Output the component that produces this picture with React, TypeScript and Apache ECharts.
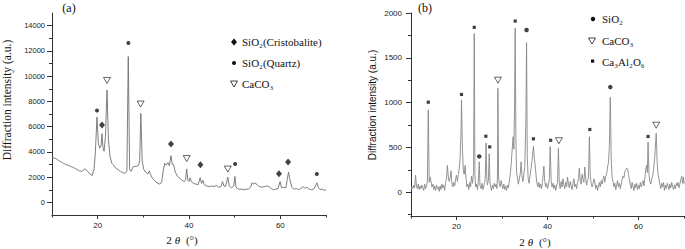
import { useEffect, useRef } from 'react';
import * as echarts from 'echarts';

// ---------- Panel (a) ----------
const patternA: number[][] = [
  [10,3600],[10.5,3500],[11,3450],[11.5,3300],[12,3200],[12.5,3100],[13,3000],[13.5,2950],[14,2850],[14.5,2800],
  [15,2700],[15.5,2600],[16,2500],[16.5,2450],[17,2600],[17.3,2650],[17.8,2450],[18.3,2250],[18.8,2120],[19.2,2600],
  [19.5,4000],[19.85,6750],[20.15,4700],[20.45,4300],[20.75,4500],[20.95,5450],[21.15,4400],[21.4,4050],[21.7,5200],[22.05,8900],
  [22.35,5000],[22.7,3650],[23.1,3100],[23.5,2950],[24,2700],[24.5,2580],[25,2450],[25.5,2350],[26,2300],[26.4,2500],
  [26.7,11550],[27.0,2600],[27.3,2450],[27.7,2800],[28,2850],[28.5,2850],[29,2950],[29.2,3300],[29.45,7050],[29.75,3300],
  [30.1,2600],[30.5,2400],[31,2250],[31.3,2500],[31.6,2200],[32,1900],[32.5,1700],[33,1550],[33.5,1450],[34,1550],
  [34.4,2600],[34.7,3100],[35,2950],[35.4,3150],[35.7,2900],[36.05,3700],[36.35,3000],[36.6,3000],[37,2400],[37.5,2050],
  [38,1900],[38.5,1750],[39,1650],[39.25,1800],[39.5,2650],[39.75,1750],[40,1650],[40.25,1950],[40.5,1650],[41,1500],
  [41.5,1450],[42,1400],[42.45,1950],[42.75,1500],[43.05,1750],[43.35,1400],[43.8,1300],[44.5,1250],[45,1300],[45.5,1250],
  [46,1350],[46.5,1200],[47,1250],[47.35,1650],[47.65,1300],[48,1250],[48.5,2000],[48.8,1300],[49.3,1150],[49.8,1300],
  [50.05,2050],[50.3,1200],[50.8,1050],[51.5,1050],[52,1000],[52.5,1050],[53,1050],[53.5,1200],[53.8,1550],[54.2,1450],
  [54.5,1550],[55,1350],[55.5,1250],[56,1200],[56.5,1250],[57,1300],[57.5,1250],[58,1100],[58.5,1000],[59,1050],
  [59.5,1100],[59.95,1650],[60.25,1150],[60.7,1200],[61.2,1150],[61.5,1800],[61.8,2400],[62.1,1800],[62.5,1200],[63,1050],
  [63.5,1100],[64,1000],[64.5,1100],[65,1250],[65.4,1100],[65.8,1200],[66.3,1050],[66.8,1000],[67.3,1050],[67.7,1300],
  [68,1550],[68.3,1200],[68.7,1000],[69.2,1050],[69.6,950],[70,1000]
];
const cristobaliteA: number[][] = [[20.95,6130],[36.05,4620],[42.5,2980],[59.7,2270],[61.7,3200]];
const quartzA: number[][] = [[19.85,7270],[26.72,12620],[50.1,3040],[68.0,2250]];
const calciteA: number[][] = [[22.05,9660],[29.4,7790],[39.5,3470],[48.5,2640]];
const yLabelsA = [0,2000,4000,6000,8000,10000,12000,14000];
const yMinorA = [1000,3000,5000,7000,9000,11000,13000];
const xLabelsA = [20,40,60];
const xMinorA = [10,30,50,70];

// ---------- Panel (b) ----------
const patternB: number[][] = [
  [10,20],[10.2,60],[10.4,40],[10.6,80],[10.8,50],[11.0,190],[11.2,70],[11.4,40],[11.6,90],[11.8,30],
  [12.0,70],[12.2,40],[12.4,80],[12.6,50],[12.8,20],[13.0,90],[13.2,40],[13.4,70],[13.6,120],[13.8,920],
  [14.0,110],[14.2,170],[14.4,120],[14.6,60],[14.8,90],[15.0,30],[15.2,70],[15.4,20],[15.6,80],[15.8,40],
  [16.0,60],[16.2,10],[16.4,70],[16.6,30],[16.8,90],[17.0,50],[17.2,80],[17.4,20],[17.6,110],[17.8,150],
  [18.0,300],[18.2,170],[18.4,120],[18.6,160],[18.8,240],[19.0,90],[19.2,60],[19.4,110],[19.6,70],[19.8,150],
  [20.0,190],[20.2,120],[20.4,200],[20.6,260],[20.8,380],[21.0,700],[21.1,1030],[21.3,500],[21.5,250],[21.7,200],
  [21.9,300],[22.1,150],[22.3,60],[22.5,90],[22.7,30],[22.9,110],[23.1,60],[23.3,180],[23.5,100],[23.75,220],
  [23.9,1770],[24.05,200],[24.2,60],[24.4,90],[24.6,30],[24.8,120],[25.0,340],[25.15,80],[25.4,40],[25.6,100],
  [25.8,30],[26.0,70],[26.2,110],[26.35,200],[26.5,550],[26.65,150],[26.8,80],[27.0,130],[27.2,430],[27.35,120],
  [27.5,60],[27.7,20],[27.9,80],[28.1,40],[28.3,100],[28.5,60],[28.7,90],[28.9,40],[29.0,180],[29.1,1160],
  [29.25,160],[29.4,100],[29.6,60],[29.8,130],[30.0,80],[30.2,40],[30.4,90],[30.6,30],[30.8,70],[31.0,20],
  [31.2,80],[31.4,50],[31.6,120],[31.8,200],[32.0,300],[32.2,450],[32.45,620],[32.6,480],[32.75,900],[32.9,1830],
  [33.05,600],[33.2,220],[33.4,160],[33.6,90],[33.8,150],[34.0,200],[34.2,340],[34.4,180],[34.6,120],[34.8,200],
  [35.0,280],[35.25,800],[35.4,1670],[35.55,400],[35.75,150],[35.95,100],[36.15,180],[36.35,260],[36.6,350],[36.9,510],
  [37.1,380],[37.3,300],[37.5,180],[37.7,90],[37.9,60],[38.1,110],[38.3,50],[38.5,90],[38.7,40],[38.9,120],
  [39.05,200],[39.2,290],[39.4,120],[39.6,60],[39.8,100],[40.0,40],[40.2,80],[40.4,150],[40.6,510],[40.8,130],
  [41.0,60],[41.2,100],[41.4,40],[41.6,80],[41.8,20],[42.0,70],[42.2,110],[42.4,490],[42.6,90],[42.8,40],
  [43.0,120],[43.2,60],[43.4,150],[43.6,80],[43.8,40],[44.0,110],[44.2,60],[44.4,170],[44.6,90],[44.8,50],
  [45.0,120],[45.2,70],[45.4,30],[45.6,100],[45.8,150],[46.0,60],[46.2,90],[46.4,40],[46.6,110],[46.8,150],
  [47.0,270],[47.2,120],[47.4,90],[47.6,200],[47.8,140],[48.0,110],[48.2,280],[48.4,150],[48.6,80],[48.8,130],
  [49.0,160],[49.2,620],[49.4,180],[49.6,100],[49.8,60],[50.0,90],[50.2,150],[50.4,110],[50.6,40],[50.8,80],
  [51.0,20],[51.2,70],[51.4,110],[51.6,60],[51.8,130],[52.0,90],[52.2,150],[52.4,180],[52.6,110],[52.8,180],
  [53.0,200],[53.2,280],[53.4,330],[53.6,520],[53.8,1060],[54.0,380],[54.2,160],[54.4,120],[54.6,60],[54.8,100],
  [55.0,30],[55.2,80],[55.4,130],[55.6,60],[55.8,100],[56.0,40],[56.2,90],[56.4,140],[56.6,180],[56.8,160],
  [57.0,230],[57.2,250],[57.4,270],[57.6,260],[57.8,200],[58.0,140],[58.2,90],[58.4,40],[58.6,110],[58.8,60],
  [59.0,20],[59.2,90],[59.4,50],[59.6,100],[59.8,30],[60.0,80],[60.2,40],[60.4,110],[60.6,60],[60.8,100],
  [61.0,130],[61.2,70],[61.4,160],[61.6,260],[61.8,300],[61.95,220],[62.1,560],[62.3,200],[62.5,120],[62.7,90],
  [62.9,150],[63.1,180],[63.3,240],[63.55,380],[63.9,660],[64.1,330],[64.3,200],[64.5,150],[64.7,90],[64.9,40],
  [65.1,100],[65.3,60],[65.5,110],[65.7,20],[65.9,80],[66.1,40],[66.3,100],[66.5,70],[66.7,30],[66.9,90],
  [67.1,50],[67.3,110],[67.5,60],[67.7,30],[67.9,80],[68.1,40],[68.3,100],[68.5,70],[68.7,110],[68.9,50],
  [69.1,90],[69.3,140],[69.5,180],[69.7,100],[69.9,170],[70,90]
];
const silicaB: number[][] = [[25.0,400],[35.4,1810],[53.8,1173]];
const calciteB: number[][] = [[29.1,1251],[42.5,575],[63.9,748]];
const aluminateB: number[][] = [
  [13.8,1005],[21.1,1091],[23.9,1840],[26.45,625],[27.3,506],[32.9,1910],[36.9,596],[40.7,580],[49.3,700],[62.1,622]
];
const yLabelsB = [0,500,1000,1500,2000];
const yMinorB = [-250,250,750,1250,1750];
const xLabelsB = [20,40,60];
const xMinorB = [10,30,50,70];

const SANS = 'Liberation Sans, Arial, sans-serif';
const SERIF = 'Liberation Serif, Times New Roman, serif';
const AXIS_COLOR = '#333';
const plain = (v: number) => String(v);

function mainX(grid: number, labels: number[]) {
  return {
    type: 'value', gridIndex: grid, min: 10, max: 70, position: 'bottom',
    splitLine: { show: false },
    axisLine: { show: true, onZero: false, lineStyle: { color: AXIS_COLOR, width: 1 } },
    axisTick: { show: true, length: 4, customValues: labels, lineStyle: { color: AXIS_COLOR } },
    axisLabel: { show: true, customValues: labels, formatter: plain, margin: 6, fontFamily: SANS, fontSize: 8, color: '#222' },
  };
}
function minorX(grid: number, ticks: number[]) {
  return {
    type: 'value', gridIndex: grid, min: 10, max: 70, position: 'bottom',
    splitLine: { show: false },
    axisLine: { show: false, onZero: false },
    axisTick: { show: true, length: 2.5, customValues: ticks, lineStyle: { color: AXIS_COLOR } },
    axisLabel: { show: false },
  };
}
function mainY(grid: number, min: number, max: number, labels: number[], margin: number, fs: number) {
  return {
    type: 'value', gridIndex: grid, min, max, position: 'left',
    splitLine: { show: false },
    axisLine: { show: true, onZero: false, lineStyle: { color: AXIS_COLOR, width: 1 } },
    axisTick: { show: true, length: 5, customValues: labels, lineStyle: { color: AXIS_COLOR } },
    axisLabel: { show: true, customValues: labels, formatter: plain, margin, fontFamily: SANS, fontSize: fs, color: '#222' },
  };
}
function minorY(grid: number, min: number, max: number, ticks: number[]) {
  return {
    type: 'value', gridIndex: grid, min, max, position: 'left',
    splitLine: { show: false },
    axisLine: { show: false, onZero: false },
    axisTick: { show: true, length: 3, customValues: ticks, lineStyle: { color: AXIS_COLOR } },
    axisLabel: { show: false },
  };
}

function legendText(x: number, y: number, text: string) {
  return {
    type: 'text', x, y,
    style: { text, fontFamily: SERIF, fontSize: 11, fill: '#111', align: 'left', verticalAlign: 'middle' },
  };
}
function triDown(cx: number, cy: number, w: number, h: number) {
  return {
    type: 'polygon',
    shape: { points: [[cx - w / 2, cy - h / 2], [cx + w / 2, cy - h / 2], [cx, cy + h / 2]] },
    style: { fill: '#fff', stroke: '#111', lineWidth: 0.8 },
  };
}
function diamond(cx: number, cy: number, w: number, h: number) {
  return {
    type: 'polygon',
    shape: { points: [[cx, cy - h / 2], [cx + w / 2, cy], [cx, cy + h / 2], [cx - w / 2, cy]] },
    style: { fill: '#111' },
  };
}

export default function App() {
  const ref = useRef<HTMLDivElement>(null);
  useEffect(() => {
    if (!ref.current) return;
    const chart = echarts.init(ref.current, undefined, { renderer: 'svg' });
    const option: any = {
      animation: false,
      backgroundColor: '#fff',
      grid: [
        { left: 52, top: 13, width: 274, height: 202 },
        { left: 411, top: 13, width: 273, height: 203 },
      ],
      xAxis: [mainX(0, xLabelsA), minorX(0, xMinorA), mainX(1, xLabelsB), minorX(1, xMinorB)],
      yAxis: [
        mainY(0, -1000, 15000, yLabelsA, 7, 7.5),
        minorY(0, -1000, 15000, yMinorA),
        mainY(1, -265, 2000, yLabelsB, 9, 8),
        minorY(1, -265, 2000, yMinorB),
      ],
      series: [
        {
          type: 'line', xAxisIndex: 0, yAxisIndex: 0, data: patternA, showSymbol: false, symbol: 'none',
          lineStyle: { color: '#707070', width: 0.9 },
        },
        {
          type: 'scatter', xAxisIndex: 0, yAxisIndex: 0, data: cristobaliteA, symbol: 'diamond', symbolSize: [6, 7],
          itemStyle: { color: '#111' },
        },
        {
          type: 'scatter', xAxisIndex: 0, yAxisIndex: 0, data: quartzA, symbol: 'circle', symbolSize: 4,
          itemStyle: { color: '#111' },
        },
        {
          type: 'scatter', xAxisIndex: 0, yAxisIndex: 0, data: calciteA, symbol: 'triangle', symbolRotate: 180,
          symbolSize: [7, 6], itemStyle: { color: '#fff', borderColor: '#111', borderWidth: 0.8 },
        },
        {
          type: 'line', xAxisIndex: 2, yAxisIndex: 2, data: patternB, showSymbol: false, symbol: 'none',
          lineStyle: { color: '#888', width: 0.9 },
        },
        {
          type: 'scatter', xAxisIndex: 2, yAxisIndex: 2, data: silicaB, symbol: 'circle', symbolSize: 4.5,
          itemStyle: { color: '#111' },
        },
        {
          type: 'scatter', xAxisIndex: 2, yAxisIndex: 2, data: aluminateB, symbol: 'rect', symbolSize: 3.2,
          itemStyle: { color: '#111' },
        },
        {
          type: 'scatter', xAxisIndex: 2, yAxisIndex: 2, data: calciteB, symbol: 'triangle', symbolRotate: 180,
          symbolSize: [7, 6], itemStyle: { color: '#fff', borderColor: '#111', borderWidth: 0.8 },
        },
      ],
      graphic: [
        // panel labels
        { type: 'text', x: 69, y: 8, style: { text: '(a)', fontFamily: SERIF, fontSize: 12, fill: '#111', align: 'center', verticalAlign: 'middle' } },
        { type: 'text', x: 425, y: 8, style: { text: '(b)', fontFamily: SERIF, fontSize: 12, fill: '#111', align: 'center', verticalAlign: 'middle' } },
        // y titles
        { type: 'text', x: 7, y: 100, rotation: Math.PI / 2, style: { text: 'Diffraction intensity (a.u.)', fontFamily: SERIF, fontSize: 11.5, fill: '#111', align: 'center', verticalAlign: 'middle' } },
        { type: 'text', x: 372, y: 105, rotation: Math.PI / 2, style: { text: 'Diffraction intensity (a.u.)', fontFamily: SANS, fontSize: 10, fill: '#111', align: 'center', verticalAlign: 'middle' } },
        // x titles
        { type: 'text', x: 182, y: 240, style: { text: '2{i|θ} (°)', fontFamily: SERIF, fontSize: 11, fill: '#111', align: 'center', verticalAlign: 'middle', rich: { i: { fontStyle: 'italic', fontFamily: SERIF, fontSize: 11, padding: [0, 3, 0, 3] } } } },
        { type: 'text', x: 535, y: 242, style: { text: '2{i|θ} (°)', fontFamily: SERIF, fontSize: 11, fill: '#111', align: 'center', verticalAlign: 'middle', rich: { i: { fontStyle: 'italic', fontFamily: SERIF, fontSize: 11, padding: [0, 3, 0, 3] } } } },
        // legend (a)
        diamond(234, 42, 6, 7),
        legendText(242, 42, 'SiO₂(Cristobalite)'),
        { type: 'circle', shape: { cx: 234, cy: 63, r: 2 }, style: { fill: '#111' } },
        legendText(242, 63, 'SiO₂(Quartz)'),
        triDown(234, 84, 7, 6),
        legendText(242, 84, 'CaCO₃'),
        // legend (b)
        { type: 'circle', shape: { cx: 593, cy: 19, r: 2.2 }, style: { fill: '#111' } },
        legendText(602, 19, 'SiO₂'),
        triDown(592, 41, 7, 6),
        legendText(602, 41, 'CaCO₃'),
        { type: 'rect', shape: { x: 591, y: 59.5, width: 3.2, height: 3.2 }, style: { fill: '#111' } },
        legendText(602, 62, 'Ca₃Al₂O₆'),
      ],
    };
    chart.setOption(option);
    return () => chart.dispose();
  }, []);
  return (
    <div
      ref={ref}
      style={{ position: 'absolute', left: 0, top: 0, width: 685, height: 249, background: '#fff' }}
    />
  );
}
